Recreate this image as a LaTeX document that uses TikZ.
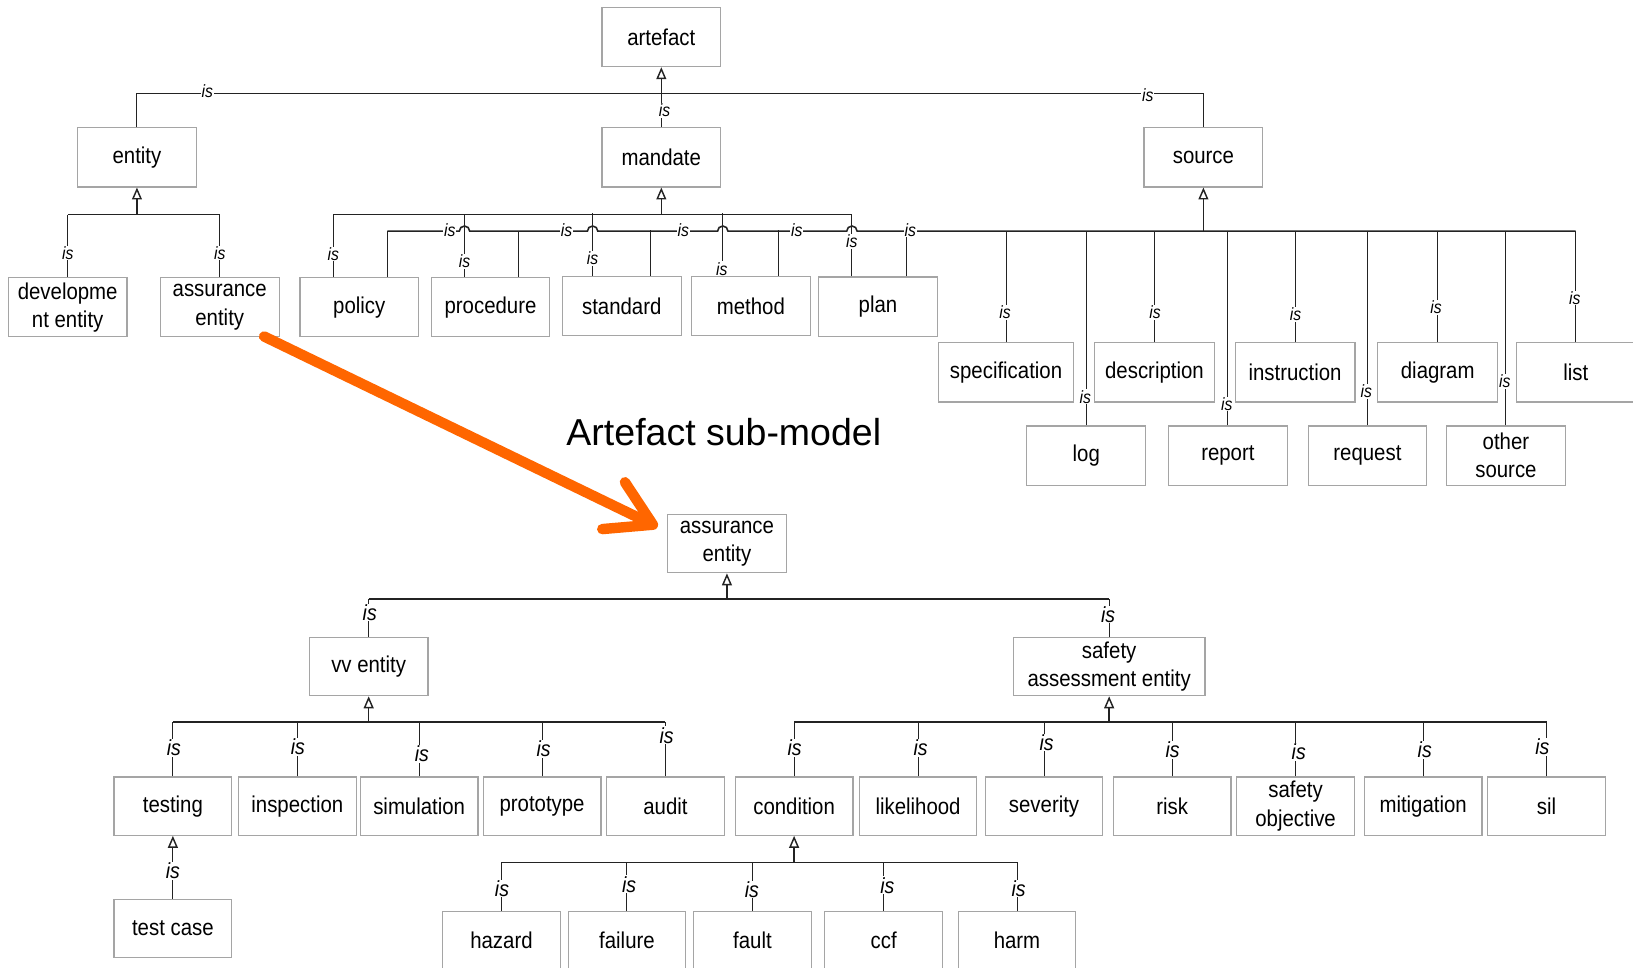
\documentclass[tikz,border=0pt]{standalone}
\usepackage{fontspec}
\setmainfont{Liberation Sans}
\newfontfamily\boxfont[FakeStretch=0.89]{Liberation Sans}
\usetikzlibrary{arrows.meta,calc}
\definecolor{boxgray}{RGB}{165,165,165}
\definecolor{linedark}{RGB}{35,35,35}
\definecolor{arroworange}{RGB}{255,102,0}

\begin{document}
\begin{tikzpicture}[x=1pt,y=-1pt,
  box/.style={draw=boxgray, line width=1.1pt, fill=white, minimum width=114pt,
    minimum height=57pt, inner sep=0pt, align=center,
    font=\boxfont\fontsize{22}{27}\selectfont},
  conn/.style={draw=linedark, line width=0.9pt},
  bus/.style={draw=linedark, line width=1.5pt},
  isarrow/.style={-{Triangle[open,length=11.5pt,width=9.5pt,line width=1.4pt]}},
  islbl/.style={fill=white, inner sep=0.8pt, font=\boxfont\itshape\fontsize{17}{17}\selectfont},
  islblb/.style={islbl, font=\boxfont\itshape\fontsize{21}{21}\selectfont},
  orangearrow/.style={draw=arroworange, line width=10pt, line cap=round, line join=round,
    -{Straight Barb[length=42pt,width=50pt,round]}}
]
\fill[white] (0,0) rectangle (1568,929);
\useasboundingbox (0,0) rectangle (1568,929);

% ---------- artefact sub-model ----------
\node[box] (art)  at (635,35.5)   {artefact};
\node[box] (ent)  at (131.5,151)  {entity};
\node[box] (man)  at (635,151)    {mandate};
\node[box] (src)  at (1155.5,151) {source};

\node[box] (dev)  at (65,295)   {developme\\nt entity};
\node[box] (asu)  at (211,295)  {assurance\\entity};

\node[box] (pol)  at (345,295)   {policy};
\node[box] (proc) at (471,295)   {procedure};
\node[box] (std)  at (597,294)   {standard};
\node[box] (meth) at (721,294)   {method};
\node[box] (plan) at (843,294.5) {plan};

\node[box, minimum width=130pt] (spec) at (966,357.5) {specification};
\node[box, minimum width=115pt] (desc) at (1108.5,357.5) {description};
\node[box, minimum width=115pt] (instr) at (1243.5,357.5) {instruction};
\node[box, minimum width=115pt] (diag) at (1380.5,357.5) {diagram};
\node[box] (list) at (1513,357.5) {list};

\node[box] (log)  at (1043,437.5) {log};
\node[box] (rep)  at (1179,437.5) {report};
\node[box] (req)  at (1313,437.5) {request};
\node[box] (oth)  at (1446,437.5) {other\\source};

% artefact level
\coordinate (topbus) at (635,90);
\draw[conn] (ent.north) |- (topbus) -| (src.north);
\draw[conn,isarrow] (man.north) -- (art.south);

% entity level
\coordinate (entbus) at (131.5,206);
\draw[bus] (dev.north |- entbus) -- (asu.north |- entbus);
\draw[bus,isarrow] (entbus) -- (ent.south);
\draw[conn] (dev.north) -- (dev.north |- entbus);
\draw[conn] (asu.north) -- (asu.north |- entbus);

% mandate level
\coordinate (manbus) at (635,206);
\draw[bus] (320,206) -- (818,206);
\draw[bus,isarrow] (manbus) -- (man.south);
\foreach \n/\dx in {pol/-25, proc/-25, std/-28, meth/-27, plan/-25}
  \draw[conn] ([xshift=\dx pt]\n.north) -- ++(0,-60);

% source level (bus hops over the mandate drops)
\coordinate (srcbus) at (1155.5,222);
\draw[bus] (372,222) -- (441,222) arc[start angle=180,end angle=360,radius=5]
  -- (564,222) arc[start angle=180,end angle=360,radius=5]
  -- (689,222) arc[start angle=180,end angle=360,radius=5]
  -- (813,222) arc[start angle=180,end angle=360,radius=5]
  -- (1513,222);
\draw[bus,isarrow] (srcbus) -- (src.south);
\foreach \n/\dx in {pol/27, proc/27, std/28, meth/26, plan/27}
  \draw[conn] ([xshift=\dx pt]\n.north) -- ++(0,-44);
\foreach \n in {spec,desc,instr,diag,list,log,rep,req,oth}
  \draw[conn] (\n.north) -- (\n.north |- srcbus);

% labels
\node[islbl] (l-ent) at (199,88) {is};
\node[islbl] (l-src) at (1102,91) {is};
\node[islbl] (l-man) at (638,106) {is};
\node[islbl] (l-dev) at (65,243) {is};
\node[islbl] (l-asu) at (211,243) {is};
\node[islbl] (l-pol) at (320,244) {is};
\node[islbl] (l-proc) at (446,251) {is};
\node[islbl] (l-std) at (569,248) {is};
\node[islbl] (l-meth) at (693,258) {is};
\node[islbl] (l-plan) at (818,232) {is};
\node[islbl] (m-pol) at (432,221) {is};
\node[islbl] (m-proc) at (544,221) {is};
\node[islbl] (m-std) at (656,221) {is};
\node[islbl] (m-meth) at (765,221) {is};
\node[islbl] (m-plan) at (874,221) {is};
\node[islbl] (l-spec) at (965,300) {is};
\node[islbl] (l-desc) at (1109,300) {is};
\node[islbl] (l-instr) at (1244,302) {is};
\node[islbl] (l-diag) at (1379,295) {is};
\node[islbl] (l-list) at (1512,286) {is};
\node[islbl] (l-log) at (1042,381) {is};
\node[islbl] (l-rep) at (1178,388) {is};
\node[islbl] (l-req) at (1312,376) {is};
\node[islbl] (l-oth) at (1445,366) {is};

% title
\node[font=\fontsize{36}{40}\selectfont, inner sep=0pt] (title) at (695,415) {Artefact sub-model};

% ---------- assurance entity sub-model ----------
\node[box, minimum height=56pt] (ae2) at (698,522) {assurance\\entity};
\node[box, minimum height=56pt] (vv) at (354,640) {vv entity};
\node[box, minimum height=56pt, minimum width=184pt] (sae) at (1065,640) {safety\\assessment entity};

\tikzset{lbox/.style={box, minimum width=113pt, minimum height=56pt}}
\node[lbox] (testing) at (166,774)   {testing};
\node[lbox] (insp)    at (285.5,774) {inspection};
\node[lbox] (sim)     at (402.5,774) {simulation};
\node[lbox] (proto)   at (520.5,774) {prototype};
\node[lbox] (audit)   at (639,774)   {audit};
\node[lbox] (tcase)   at (166,891.5) {test case};

\node[lbox] (cond)  at (762.5,774)  {condition};
\node[lbox] (lik)   at (881.5,774)  {likelihood};
\node[lbox] (sev)   at (1002.5,774) {severity};
\node[lbox] (risk)  at (1125.5,774) {risk};
\node[lbox] (sobj)  at (1244,774)   {safety\\objective};
\node[lbox] (mitig) at (1366.5,774) {mitigation};
\node[lbox] (sil)   at (1485,774)   {sil};

\node[lbox] (haz)   at (481.5,903) {hazard};
\node[lbox] (fail)  at (602,903)   {failure};
\node[lbox] (fault) at (722.5,903) {fault};
\node[lbox] (ccf)   at (848.5,903) {ccf};
\node[lbox] (harm)  at (976.5,903) {harm};

% assurance entity level
\coordinate (aebus) at (698,575);
\draw[bus] (vv.north |- aebus) -- (sae.north |- aebus);
\draw[bus,isarrow] (aebus) -- (ae2.south);
\foreach \n in {vv,sae} \draw[conn] (\n.north) -- (\n.north |- aebus);

% vv entity level
\coordinate (vvbus) at (354,693);
\draw[bus] (testing.north |- vvbus) -- (audit.north |- vvbus);
\draw[bus,isarrow] (vvbus) -- (vv.south);
\foreach \n in {testing,insp,sim,proto,audit} \draw[conn] (\n.north) -- (\n.north |- vvbus);

% safety assessment entity level
\coordinate (saebus) at (1065,693);
\draw[bus] (cond.north |- saebus) -- (sil.north |- saebus);
\draw[bus,isarrow] (saebus) -- (sae.south);
\foreach \n in {cond,lik,sev,risk,sobj,mitig,sil} \draw[conn] (\n.north) -- (\n.north |- saebus);

% condition level
\coordinate (condbus) at (762.5,828);
\draw[bus] (haz.north |- condbus) -- (harm.north |- condbus);
\draw[bus,isarrow] (condbus) -- (cond.south);
\foreach \n in {haz,fail,fault,ccf,harm} \draw[conn] (\n.north) -- (\n.north |- condbus);

% testing level
\draw[conn,isarrow] (tcase.north) -- (testing.south);

% labels
\node[islblb] (l-vv) at (355,588) {is};
\node[islblb] (l-sae) at (1064,590) {is};
\node[islblb] (l-testing) at (167,718) {is};
\node[islblb] (l-insp) at (286,717) {is};
\node[islblb] (l-sim) at (405,724) {is};
\node[islblb] (l-proto) at (522,719) {is};
\node[islblb] (l-audit) at (640,706) {is};
\node[islblb] (l-cond) at (763,718) {is};
\node[islblb] (l-lik) at (884,718) {is};
\node[islblb] (l-sev) at (1005,713) {is};
\node[islblb] (l-risk) at (1126,720) {is};
\node[islblb] (l-sobj) at (1247,722) {is};
\node[islblb] (l-mitig) at (1368,720) {is};
\node[islblb] (l-sil) at (1481,717) {is};
\node[islblb] (l-tcase) at (166,836) {is};
\node[islblb] (l-haz) at (482,853) {is};
\node[islblb] (l-fail) at (604,849) {is};
\node[islblb] (l-fault) at (722,854) {is};
\node[islblb] (l-ccf) at (852,850) {is};
\node[islblb] (l-harm) at (978,853) {is};

% link between the two sub-models
\draw[orangearrow] ([shift={(-15pt,1pt)}]asu.south east) -- ([shift={(-9pt,16pt)}]ae2.west);
\end{tikzpicture}
\end{document}
